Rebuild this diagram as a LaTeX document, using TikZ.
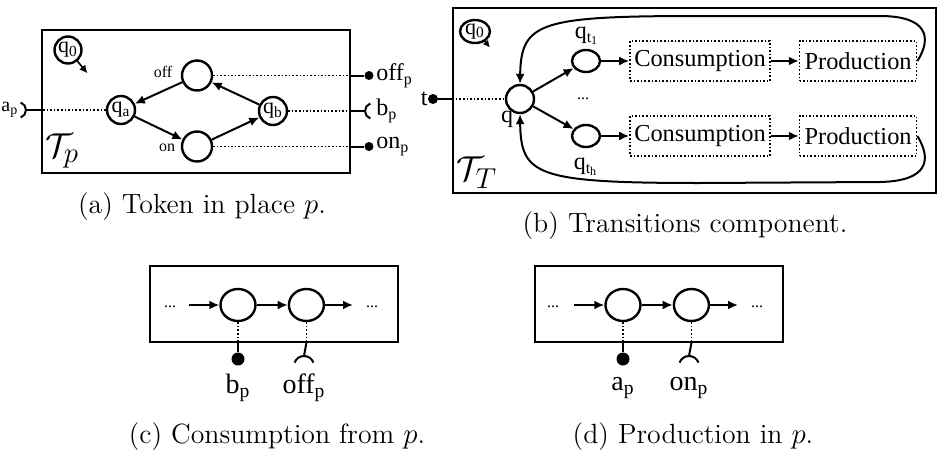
\documentclass[tikz,border=0pt]{standalone}
\usepackage{fontspec}
\newfontfamily\tms{Liberation Serif}
\usetikzlibrary{shapes,arrows.meta,positioning,calc}

\newcommand{\low}[2]{#1\textsubscript{#2}}

\begin{document}
\begin{tikzpicture}[
    x=0.5pt, y=-0.5pt,
    panel/.style={rectangle, draw, line width=0.9pt, inner sep=0pt},
    loc/.style={circle, draw, line width=1.2pt, minimum size=14pt, inner sep=0pt, font=\tms\fontsize{11}{12}\selectfont},
    wideloc/.style={ellipse, draw, line width=1.2pt, minimum width=14pt, minimum height=11pt, inner sep=0pt},
    bigloc/.style={ellipse, draw, line width=1.2pt, minimum width=17.5pt, minimum height=16pt, inner sep=0pt},
    initloc/.style={ellipse, draw, line width=1.2pt, inner sep=0pt, font=\tms\fontsize{11}{12}\selectfont},
    stage/.style={rectangle, draw, densely dotted, line width=0.8pt, minimum height=20pt, inner sep=0pt, font=\tms\fontsize{12.2}{14}\selectfont},
    line/.style={draw, -{Latex[length=5pt,width=4.5pt]}, line width=1pt},
    link/.style={draw, densely dotted, line width=0.8pt},
    wire/.style={draw, line width=1pt},
    ball/.style={circle, fill, inner sep=0pt, minimum size=4.5pt},
    lbl/.style={inner sep=0pt, font=\tms\fontsize{12}{14}\selectfont},
    biglbl/.style={inner sep=0pt, font=\tms\fontsize{14}{16}\selectfont},
    tiny/.style={inner sep=0pt, font=\tms\fontsize{8}{9}\selectfont},
    subcap/.style={inner sep=0pt, font=\fontsize{13.9}{16}\selectfont},
    comp/.style={inner sep=0pt, font=\fontsize{19}{21}\selectfont}
]
    \useasboundingbox (0,0) rectangle (943,461);

    % (a) token in place p
    \node [panel, minimum width=154pt, minimum height=71.5pt] (pa) at (196,101.5) {};
    \node [loc, minimum size=13.5pt] (q0a) at (68,50) {\low{q}{0}};
    \node [loc] (qa) at (121,110) {\low{q}{a}};
    \node [loc] (qb) at (273,111) {\low{q}{b}};
    \node [loc, minimum size=15pt] (off) at (197,75.5) {};
    \node [loc, minimum size=15pt] (on) at (197,146.5) {};
    \node [tiny] (offlbl) at (163,72) {off};
    \node [tiny] (onlbl) at (167,148) {on};
    \node [comp] (tp) at (62,151) {$\mathcal{T}_p$};

    \node [ball] (offp) at (369,75.5) {};
    \node [ball] (onp) at (369,146.5) {};
    \coordinate (bp) at (365,111);
    \coordinate (ap) at (26,110);
    \node [lbl, anchor=west] (offplbl) at (376,75.5) {\low{off}{p}};
    \node [lbl, anchor=west] (bplbl) at (376,111) {\low{b}{p}};
    \node [lbl, anchor=west] (onplbl) at (376,146.5) {\low{on}{p}};
    \node [lbl, anchor=west, font=\tms\fontsize{10}{12}\selectfont] (aplbl) at (1,110) {\low{a}{p}};

    \draw [line] (off) -- (qa);
    \draw [line] (qa) -- (on);
    \draw [line] (on) -- (qb);
    \draw [line] (qb) -- (off);
    \draw [-{Latex[length=4pt,width=4pt]}, line width=0.8pt] (q0a.-50) -- ++(5pt,-6pt);

    \draw [link] (off.east) -- (off -| pa.east);
    \draw [wire] (off -| pa.east) -- (offp);
    \draw [link] (on.east) -- (on -| pa.east);
    \draw [wire] (on -| pa.east) -- (onp);
    \draw [link] (qb.east) -- (qb -| pa.east);
    \draw [wire] (qb -| pa.east) -- (bp);
    \draw [wire] (bp) arc[start angle=180, end angle=110, radius=4pt]
        (bp) arc[start angle=180, end angle=250, radius=4pt];
    \draw [link] (qa.west) -- (qa -| pa.west);
    \draw [wire] (qa -| pa.west) -- (ap);
    \draw [wire] (ap) arc[start angle=0, end angle=70, radius=4pt]
        (ap) arc[start angle=0, end angle=-70, radius=4pt];

    \node [subcap] (capa) at (202,207) {(a) Token in place $p$.};

    % (b) transitions component
    \node [panel, minimum width=241.5pt, minimum height=92.5pt] (pb) at (694.5,100.5) {};
    \node [initloc, minimum width=15pt, minimum height=11.5pt] (q0b) at (475,31.5) {\low{q}{0}};
    \node [loc] (q) at (520,99) {};
    \node [lbl] (qlbl) at (507,119) {q};
    \node [wideloc] (qt1) at (586,61) {};
    \node [wideloc] (qth) at (586,136) {};
    \node [lbl] (qt1lbl) at (587,36) {\low{q}{\low{t}{1}}};
    \node [lbl] (qthlbl) at (586,167) {\low{q}{\low{t}{h}}};
    \node [tiny, anchor=base] (dotsb) at (583,99) {...};
    \node [stage, minimum width=70pt, right=14pt of qt1] (con1) {Consumption};
    \node [stage, minimum width=58.5pt, right=14pt of con1] (prod1) {Production};
    \node [stage, minimum width=70pt, right=14pt of qth] (con2) {Consumption};
    \node [stage, minimum width=58.5pt, right=14pt of con2] (prod2) {Production};
    \node [comp] (tt) at (477,173) {$\mathcal{T}_T$};

    \node [ball, minimum size=5pt] (tdot) at (433,99) {};
    \node [lbl, anchor=east] (tlbl) at (428,99) {t};
    \draw [wire] (tdot) -- (tdot -| pb.west);
    \draw [link] (tdot -| pb.west) -- (q.west);

    \draw [line] (q) -- (qt1);
    \draw [line] (q) -- (qth);
    \draw [line] (qt1) -- (con1);
    \draw [line] (con1) -- (prod1);
    \draw [line] (qth) -- (con2);
    \draw [line] (con2) -- (prod2);
    \draw [line] (prod1.east) .. controls (932,38) and (928,16) .. (880,16)
        -- (700,16) .. controls (540,16) and (521,22) .. (q.north);
    \draw [line] (prod2.east) .. controls (932,160) and (928,181) .. (880,182)
        -- (700,183) .. controls (535,183) and (521,175) .. (q.south);
    \draw [-{Latex[length=3.5pt,width=3.5pt]}, line width=0.8pt] (q0b.-45) -- ++(2.5pt,-3pt);

    \node [subcap] (capb) at (685,226) {(b) Transitions component.};

    % (c) consumption from p
    \node [panel, minimum width=124pt, minimum height=38pt] (pc) at (274,304) {};
    \node [bigloc] (c1) at (238,305) {};
    \node [bigloc, right=15.5pt of c1] (c2) {};
    \coordinate (cin) at (189,305);
    \coordinate (cout) at (353,305);
    \node [tiny, anchor=base] (cdl) at (170,307) {...};
    \node [tiny, anchor=base] (cdr) at (372,307) {...};
    \draw [line] (cin) -- (c1);
    \draw [line] (c1) -- (c2);
    \draw [line] (c2) -- (cout);
    \node [ball, minimum size=6.5pt] (cb) at (238,359) {};
    \coordinate (cs) at (304,356);
    \draw [link] (c1.south) -- (c1 |- pc.south);
    \draw [wire] (c1 |- pc.south) -- (cb);
    \draw [link] (c2.south) -- (c2 |- pc.south);
    \draw [wire] (c2 |- pc.south) -- (cs);
    \draw [wire] (cs) arc[start angle=90, end angle=20, radius=5pt]
        (cs) arc[start angle=90, end angle=160, radius=5pt];
    \node [biglbl] (cblbl) at (238,388) {\low{b}{p}};
    \node [biglbl] (cslbl) at (304,388) {\low{off}{p}};
    \node [subcap] (capc) at (277,437) {(c) Consumption from $p$.};

    % (d) production in p
    \node [panel, minimum width=124pt, minimum height=38pt] (pd) at (659,304) {};
    \node [bigloc] (d1) at (623,305) {};
    \node [bigloc, right=15.5pt of d1] (d2) {};
    \coordinate (din) at (574,305);
    \coordinate (dout) at (738,305);
    \node [tiny, anchor=base] (ddl) at (553,307) {...};
    \node [tiny, anchor=base] (ddr) at (757,307) {...};
    \draw [line] (din) -- (d1);
    \draw [line] (d1) -- (d2);
    \draw [line] (d2) -- (dout);
    \node [ball, minimum size=6.5pt] (db) at (623,359) {};
    \coordinate (ds) at (689,356);
    \draw [link] (d1.south) -- (d1 |- pd.south);
    \draw [wire] (d1 |- pd.south) -- (db);
    \draw [link] (d2.south) -- (d2 |- pd.south);
    \draw [wire] (d2 |- pd.south) -- (ds);
    \draw [wire] (ds) arc[start angle=90, end angle=20, radius=5pt]
        (ds) arc[start angle=90, end angle=160, radius=5pt];
    \node [biglbl] (dblbl) at (623,388) {\low{a}{p}};
    \node [biglbl] (dslbl) at (689,388) {\low{on}{p}};
    \node [subcap] (capd) at (693,437) {(d) Production in $p$.};
\end{tikzpicture}
\end{document}
